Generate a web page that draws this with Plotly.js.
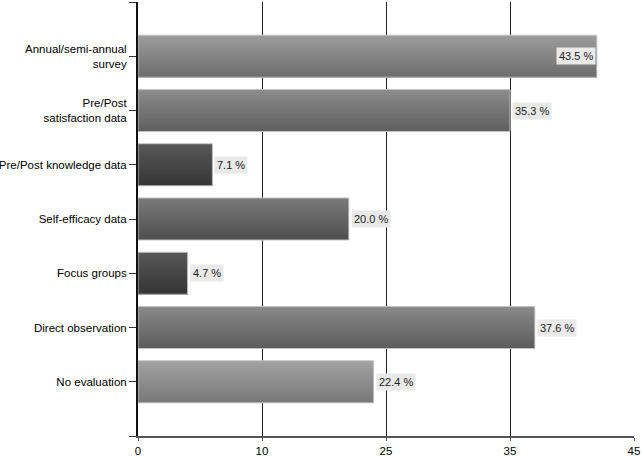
<!DOCTYPE html>
<html>
<head>
<meta charset="utf-8">
<script src="https://cdn.plot.ly/plotly-3.0.1.min.js"></script>
<style>html,body{margin:0;padding:0;background:#fff;}#chart{width:642px;height:457px;}</style>
</head>
<body>
<div id="chart"></div>
<script>
// ---- data ----
const categories = ["Annual/semi-annual<br>survey", "Pre/Post<br>satisfaction data", "Pre/Post knowledge data", "Self-efficacy data", "Focus groups", "Direct observation", "No evaluation"];
const counts = [37, 30, 6, 17, 4, 32, 19];
const pctLabels = ["43.5 %", "35.3 %", "7.1 %", "20.0 %", "4.7 %", "37.6 %", "22.4 %"];
const xTickVals = [0, 10, 20, 30, 40];
const xTickText = ["0", "10", "25", "35", "45"];
// gray levels of each bar's gradient (top, bottom)
const topShade = [156, 140, 88, 122, 88, 138, 162];
const bottomShade = [108, 94, 54, 78, 52, 92, 120];

const idx = categories.map((_, i) => i);
const barW = 0.775;
const N = 16;
const traces = [];
for (let k = 0; k < N; k++) {
  const t = (k + 0.5) / N;
  const cols = topShade.map((a, i) => {
    const g = Math.round(a + (bottomShade[i] - a) * t);
    return `rgb(${g},${g},${g})`;
  });
  // each strip reaches down to the bar's bottom edge; later strips cover earlier ones
  traces.push({
    type: 'bar', orientation: 'h', x: counts, y: idx,
    width: barW - k * barW / N, offset: -barW / 2 + k * barW / N,
    marker: {color: cols, line: {width: 0}},
    hoverinfo: 'skip', showlegend: false
  });
}
traces.push({
  type: 'bar', orientation: 'h', x: counts, y: idx,
  width: barW, offset: -barW / 2,
  marker: {color: 'rgba(0,0,0,0)', line: {width: 1, color: '#c4c4c4'}},
  hoverinfo: 'skip', showlegend: false
});

const annotations = counts.map((c, i) => {
  const inside = c > 34;
  return {
    x: c, y: i, xref: 'x', yref: 'y', text: pctLabels[i], showarrow: false,
    xanchor: inside ? 'right' : 'left', yanchor: 'middle',
    xshift: inside ? -1 : 2,
    bgcolor: '#e9e9e9', borderpad: 2,
    font: {family: 'Liberation Sans, Arial, sans-serif', size: 11, color: '#222'}
  };
});

const layout = {
  width: 642, height: 457,
  margin: {l: 138, r: 8, t: 2, b: 21, pad: 0},
  paper_bgcolor: '#fff', plot_bgcolor: '#fff',
  barmode: 'overlay',
  font: {family: 'Liberation Sans, Arial, sans-serif', size: 12, color: '#000'},
  xaxis: {
    range: [0, 40], tickvals: xTickVals, ticktext: xTickText,
    showgrid: true, gridcolor: '#222', gridwidth: 1,
    showline: true, linecolor: '#555', linewidth: 2,
    ticks: 'outside', ticklen: 3, tickcolor: '#555', tickwidth: 1,
    zeroline: false, fixedrange: true,
    tickfont: {size: 11.5, color: '#000'}
  },
  yaxis: {
    range: [7, -1], tickvals: [-1].concat(idx, [7]), ticktext: [""].concat(categories, [""]),
    showgrid: false, showline: true, linecolor: '#111', linewidth: 2,
    ticks: 'outside', ticklen: 7, tickcolor: '#333', tickwidth: 1,
    zeroline: false, fixedrange: true,
    tickfont: {size: 11.5, color: '#000'}
  },
  annotations: annotations
};

Plotly.newPlot('chart', traces, layout, {displayModeBar: false, staticPlot: true});
</script>
</body>
</html>
